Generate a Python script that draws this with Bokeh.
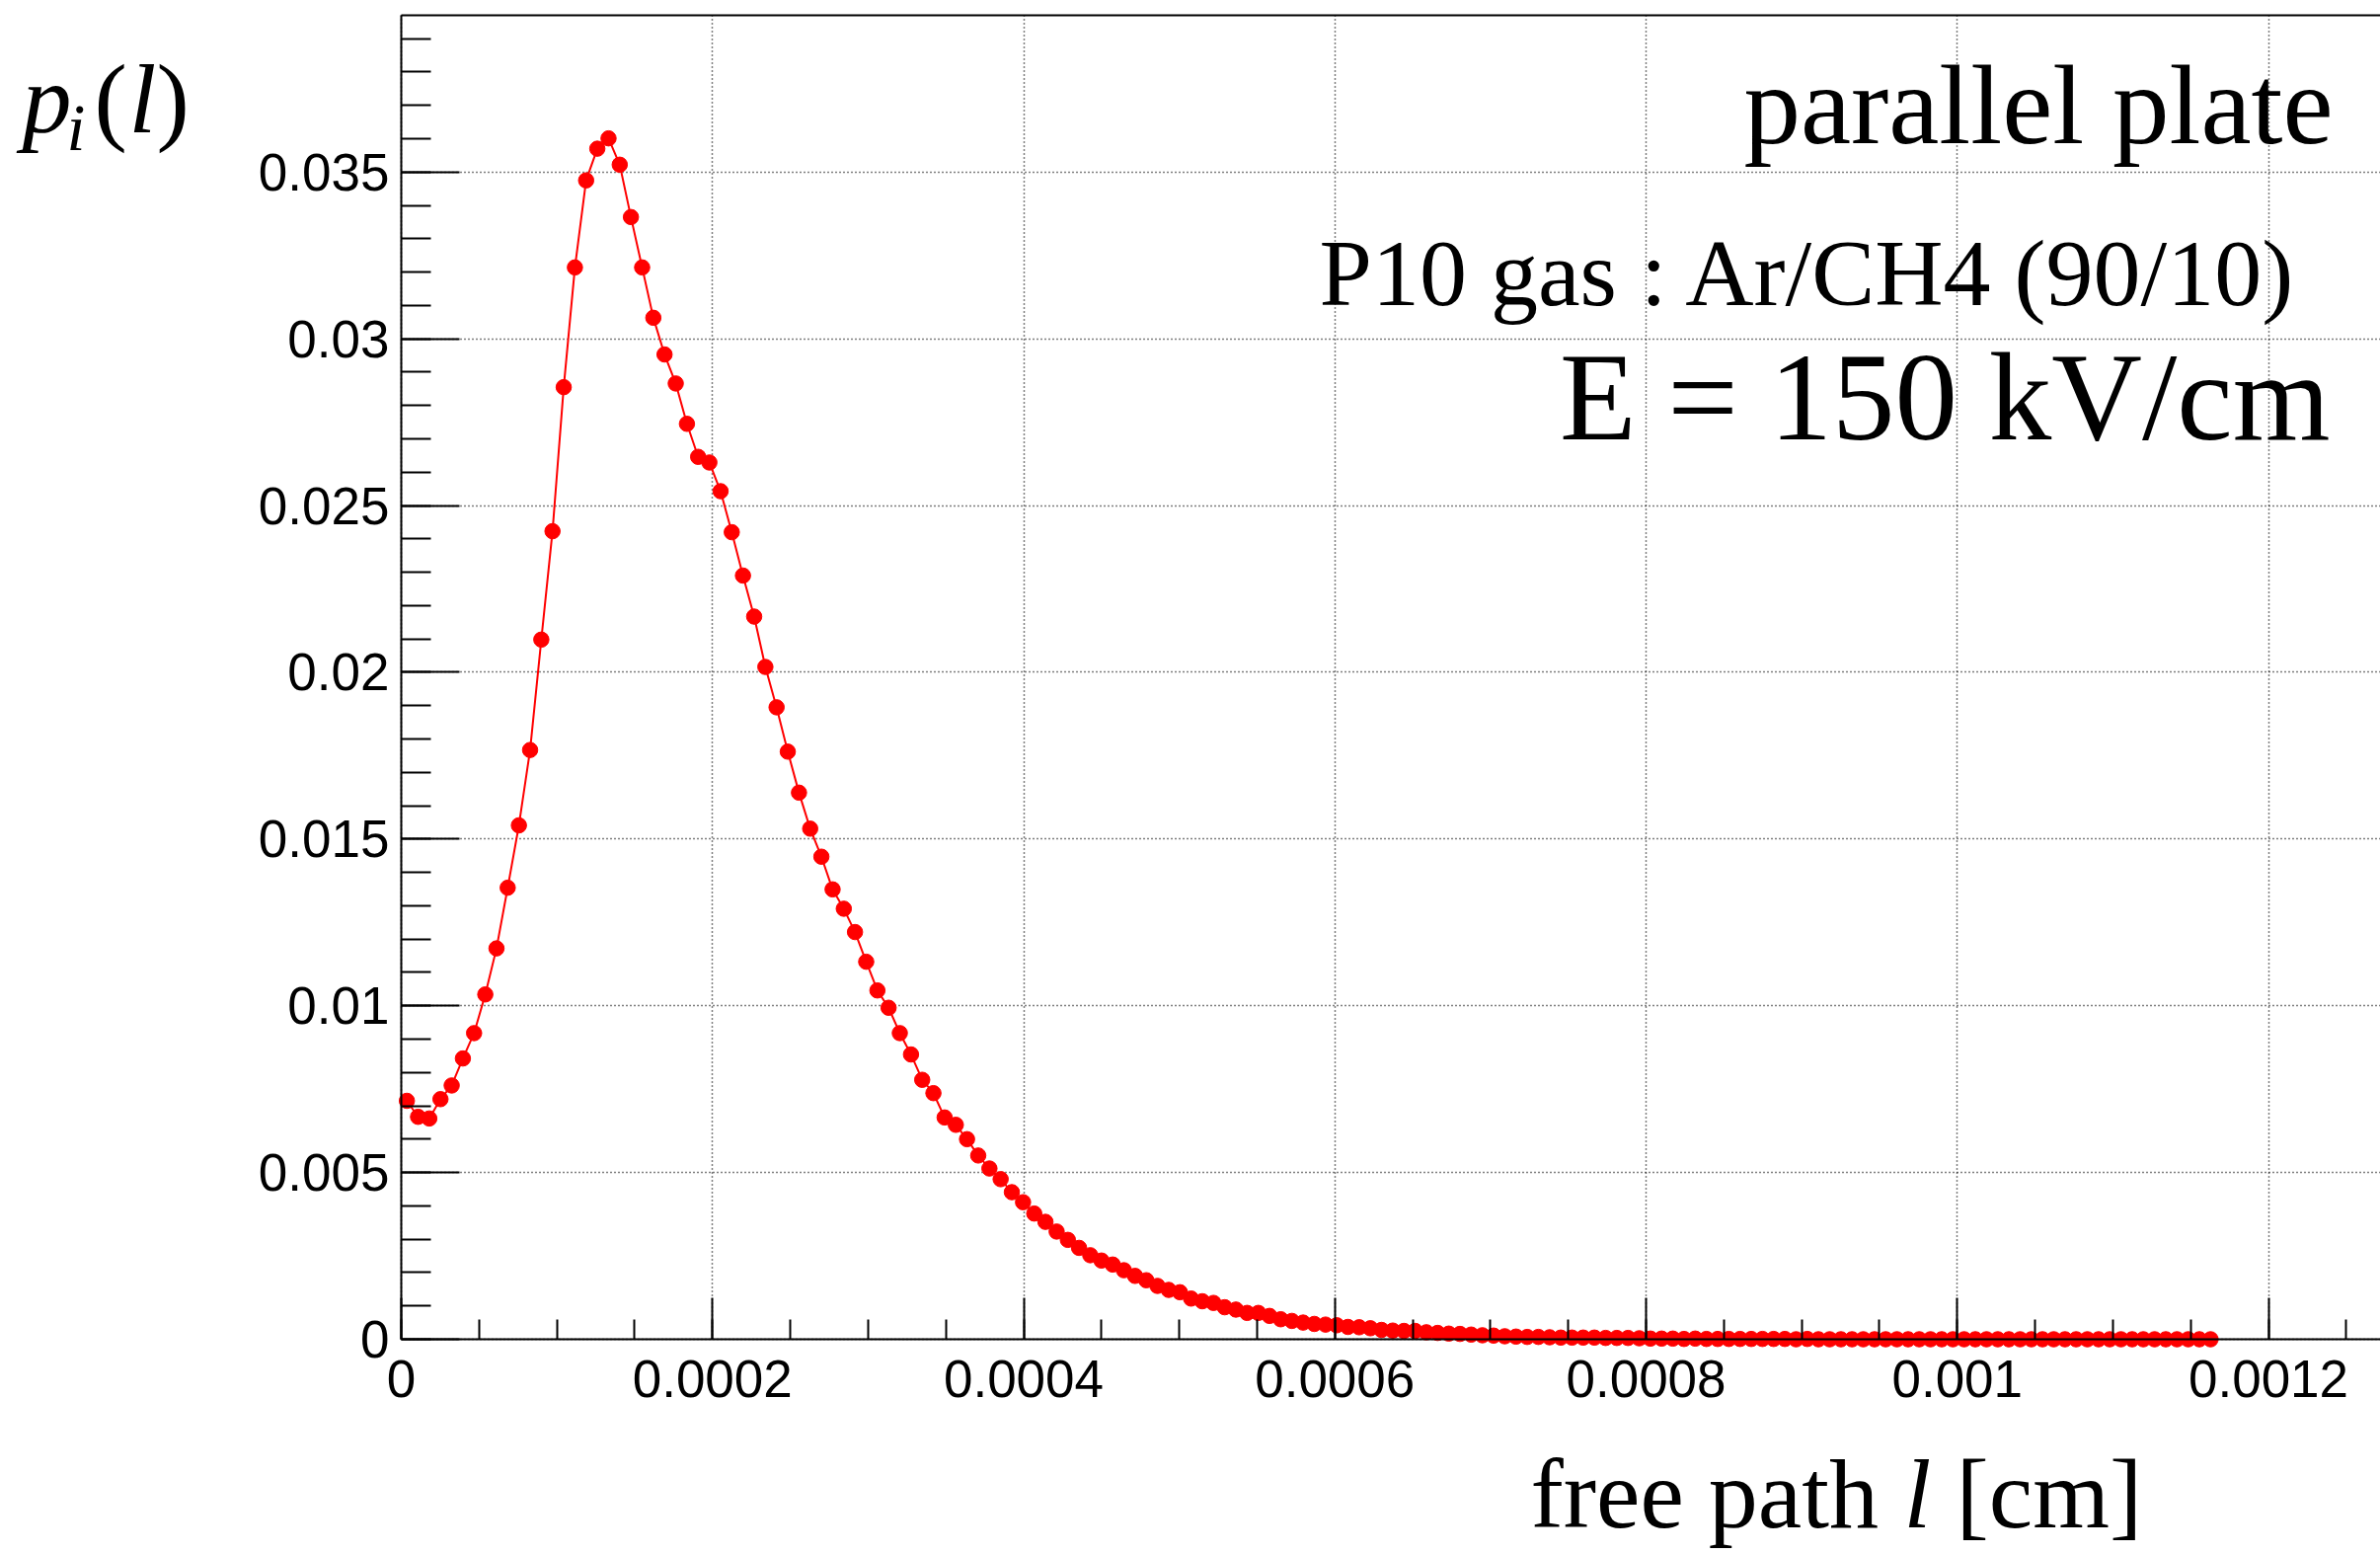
from bokeh.plotting import figure
from bokeh.models import (Range1d, FixedTicker, CustomJSTickFormatter, LinearAxis,
                          Label, ColumnDataSource)
from bokeh.embed import file_html
from bokeh.resources import INLINE

# ---- data -----------------------------------------------------------------
pi_values = [
    0.00715, 0.00667, 0.00662, 0.00720, 0.00761, 0.00842, 0.00918, 0.01034, 0.01172, 0.01354,
    0.01541, 0.01767, 0.02098, 0.02423, 0.02855, 0.03214, 0.03475, 0.03570, 0.03601, 0.03522,
    0.03365, 0.03214, 0.03063, 0.02953, 0.02866, 0.02745, 0.02646, 0.02629, 0.02543, 0.02420,
    0.02290, 0.02167, 0.02016, 0.01895, 0.01762, 0.01639, 0.01531, 0.01447, 0.01349, 0.01291,
    0.01221, 0.01132, 0.01046, 0.00994, 0.00918, 0.00854, 0.00778, 0.00738, 0.00665, 0.00643,
    0.00600, 0.00551, 0.00512, 0.00480, 0.00441, 0.00411, 0.00377, 0.00352, 0.00323, 0.00298,
    0.00274, 0.00252, 0.00236, 0.00224, 0.00207, 0.00190, 0.00177, 0.00160,
    0.00148, 0.00141, 0.00122, 0.00114, 0.00109, 0.00096, 0.00089, 0.00079, 0.00079, 0.00070,
    0.00060, 0.00055, 0.00050, 0.00046, 0.00044, 0.00042, 0.00037, 0.00036, 0.00033, 0.00028,
    0.00026, 0.00025, 0.00025, 0.00021, 0.00019, 0.00017, 0.00016, 0.00014, 0.00012, 0.00011,
    0.00009, 0.00008, 0.00007, 0.00007, 0.00006, 0.00005, 0.00005, 0.00005, 0.00005, 0.00004,
    0.00004, 0.00004, 0.00003, 0.00002,
    0.00002, 0.00002, 0.00001, 0.00002, 0.00001, 0.00001, 0.00001, 0.00001, 0.00001, 0.00001,
    0.00001, 0.00001, 0.00000, 0.00001, 0.00000, 0.00000, 0.00000, 0.00000, 0.00000, 0.00000,
    0.00000, 0.00000, 0.00000, 0.00000, 0.00000, 0.00000, 0.00000, 0.00000, 0.00000, 0.00000,
    0.00000, 0.00000, 0.00000, 0.00000, 0.00000, 0.00000, 0.00000, 0.00000, 0.00000, 0.00000,
    0.00000, 0.00000, 0.00000, 0.00000, 0.00000, 0.00000, 0.00000, 0.00000, 0.00000, 0.00000,
]
bin_width = 7.2e-6  # histogram bin width [cm]
free_path = [(i + 0.5) * bin_width for i in range(len(pi_values))]

x_ticks = [0, 0.0002, 0.0004, 0.0006, 0.0008, 0.001, 0.0012]
x_tick_labels = ["0", "0.0002", "0.0004", "0.0006", "0.0008", "0.001", "0.0012"]
y_ticks = [0, 0.005, 0.01, 0.015, 0.02, 0.025, 0.03, 0.035]
y_tick_labels = ["0", "0.005", "0.01", "0.015", "0.02", "0.025", "0.03", "0.035"]

x_end = 0.001272   # visible end of the x axis
y_end = 0.0397     # top of the frame

# ---- layout: the frame fills the canvas, axes sit at fixed data locations ---
W, H = 2411, 1574
PX_L, PX_B, PX_T = 406, 1356, 15          # canvas pixels of x=0, y=0, y=y_end
sx = (W - PX_L) / x_end                   # pixels per data unit
sy = (PX_B - PX_T) / y_end
x_start = -PX_L / sx
y_start = -(H - PX_B) / sy
y_canvas_top = y_end + PX_T / sy


def to_data(cx, cy):
    return (cx - PX_L) / sx, (PX_B - cy) / sy


p = figure(width=W, height=H, x_range=Range1d(x_start, x_end),
           y_range=Range1d(y_start, y_canvas_top),
           output_backend="svg", toolbar_location=None, min_border=0,
           min_border_left=0, min_border_right=0, min_border_top=0, min_border_bottom=0,
           background_fill_color="white", border_fill_color="white")
p.outline_line_color = None

x_minor = [i * 0.00005 for i in range(26)]
y_minor = [i * 0.001 for i in range(40)]

fmt_code = """
let best = 0, bd = Infinity;
for (let i = 0; i < tvals.length; i++) {
  const d = Math.abs(tvals[i] - tick);
  if (d < bd) { bd = d; best = i; }
}
return tlabs[best];
"""

for ax, ticks, labels, minor, maj_in, min_in, standoff, bnds in [
        (p.xaxis[0], x_ticks, x_tick_labels, x_minor, 42, 20, 21, (0, x_end)),
        (p.yaxis[0], y_ticks, y_tick_labels, y_minor, 59, 30, 12, (0, y_end))]:
    ax.fixed_location = 0
    ax.bounds = bnds
    ax.ticker = FixedTicker(ticks=ticks, minor_ticks=minor)
    ax.formatter = CustomJSTickFormatter(args=dict(tvals=ticks, tlabs=labels), code=fmt_code)
    ax.major_tick_in = maj_in
    ax.major_tick_out = 0
    ax.minor_tick_in = min_in
    ax.minor_tick_out = 0
    ax.axis_line_width = 2
    ax.major_tick_line_width = 2
    ax.minor_tick_line_width = 2
    ax.axis_line_color = "black"
    ax.major_tick_line_color = "black"
    ax.minor_tick_line_color = "black"
    ax.major_label_text_font = "Liberation Sans"
    ax.major_label_text_font_size = "53px"
    ax.major_label_text_color = "black"
    ax.major_label_standoff = standoff

top = LinearAxis(ticker=FixedTicker(ticks=[]), fixed_location=y_end, bounds=(0, x_end),
                 major_tick_in=0, major_tick_out=0, minor_tick_in=0, minor_tick_out=0,
                 major_label_text_font_size="0px", major_label_standoff=0,
                 axis_line_width=2, axis_line_color="black")
p.add_layout(top, "above")

grid_done = False
try:
    p.xgrid[0].cross_bounds = (0, y_end)
    p.ygrid[0].cross_bounds = (0, x_end)
    grid_done = True
except Exception:
    grid_done = False

if grid_done:
    for g in (p.xgrid[0], p.ygrid[0]):
        g.grid_line_color = "black"
        g.grid_line_dash = "1 3"
        g.grid_line_width = 1.5
else:
    p.xgrid[0].visible = False
    p.ygrid[0].visible = False
    gx = [t for t in x_ticks if t > 0]
    gy = [t for t in y_ticks if t > 0]
    p.segment(x0=gx, y0=[0] * len(gx), x1=gx, y1=[y_end] * len(gx),
              line_color="black", line_dash="1 3", line_width=1.5)
    p.segment(x0=[0] * len(gy), y0=gy, x1=[x_end] * len(gy), y1=gy,
              line_color="black", line_dash="1 3", line_width=1.5)

src = ColumnDataSource(dict(x=free_path, y=pi_values))
p.line("x", "y", source=src, line_color="red", line_width=2)
p.scatter("x", "y", source=src, marker="circle", size=15.5, fill_color="red", line_color="red")

BASE_SHIFT = 0.355   # rendered baseline sits this fraction of the font size lower


def add_label(text, cx, cy, size, style="normal", align="left", font="Liberation Serif"):
    dx, dy = to_data(cx, cy - BASE_SHIFT * size)
    p.add_layout(Label(x=dx, y=dy, text=text, text_font=font,
                       text_font_size=f"{size}px", text_font_style=style,
                       text_align=align, text_baseline="alphabetic", text_color="black"))


add_label("parallel plate", 2363, 147, 115, align="right")
add_label("P10 gas : Ar/CH4 (90/10)", 2328, 310, 96, align="right")
add_label("E = 150 kV/cm", 2360, 447, 127, align="right")

# y-axis title p_i(l)
add_label("p", 22, 135, 100, style="italic")
add_label("i", 67, 153, 68, style="italic")
add_label("(", 95, 135, 100)
add_label("l", 130, 135, 100, style="italic")
add_label(")", 158, 135, 100)

# x-axis title: free path l [cm]
add_label("free path", 1550, 1548, 100)
add_label("l", 1928, 1548, 100, style="italic")
add_label("[cm]", 1981, 1548, 100)

open("out.html", "w").write(file_html(p, INLINE))
